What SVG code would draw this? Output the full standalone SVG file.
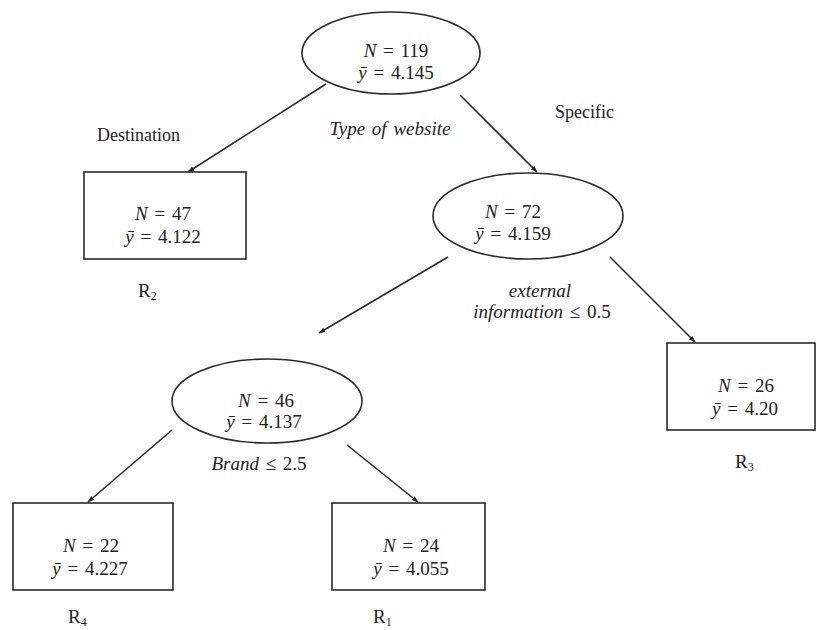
<svg xmlns="http://www.w3.org/2000/svg" width="817" height="630" viewBox="0 0 817 630">
<defs>
<marker id="arr" viewBox="0 0 10 10" refX="9" refY="5" markerWidth="7" markerHeight="7" orient="auto" markerUnits="userSpaceOnUse">
<path d="M0,1.5 L10,5 L0,8.5 z" fill="#222"/>
</marker>
<style>
.shape{fill:#fff;stroke:#2a2a2a;stroke-width:1.6}
.edge{stroke:#2a2a2a;stroke-width:1.6;fill:none;marker-end:url(#arr)}
text{font-family:"Liberation Serif","DejaVu Serif",serif;font-size:19px;fill:#222}
.m{text-anchor:middle;word-spacing:2px}
.i{font-style:italic}
.u{font-style:normal}
.lab{font-size:18px}
.sub{font-size:12px}
</style>
</defs>
<rect width="817" height="630" fill="#fff"/>
<g id="connectors">
<line class="edge" x1="326" y1="84" x2="188" y2="172"/>
<line class="edge" x1="460" y1="95" x2="537" y2="172"/>
<line class="edge" x1="448" y1="257" x2="319" y2="333"/>
<line class="edge" x1="610" y1="257" x2="695" y2="342"/>
<line class="edge" x1="172" y1="430" x2="88" y2="502"/>
<line class="edge" x1="347" y1="445" x2="418" y2="502"/>
</g>
<g id="root">
<ellipse class="shape" cx="391" cy="53" rx="89" ry="41"/>
<text class="m" x="396" y="57"><tspan class="i">N</tspan> = 119</text>
<text class="m" x="396" y="79"><tspan class="i">ȳ</tspan> = 4.145</text>
</g>
<g id="R2">
<rect class="shape" x="84" y="172" width="162" height="87"/>
<text class="m" x="163" y="220"><tspan class="i">N</tspan> = 47</text>
<text class="m" x="163" y="243"><tspan class="i">ȳ</tspan> = 4.122</text>
<text x="138" y="297">R<tspan class="sub" dy="3">2</tspan></text>
</g>
<g id="n72">
<ellipse class="shape" cx="528" cy="216" rx="95" ry="43"/>
<text class="m" x="513" y="218"><tspan class="i">N</tspan> = 72</text>
<text class="m" x="513" y="240"><tspan class="i">ȳ</tspan> = 4.159</text>
</g>
<g id="R3">
<rect class="shape" x="667" y="343" width="148" height="87"/>
<text class="m" x="746" y="392"><tspan class="i">N</tspan> = 26</text>
<text class="m" x="745" y="415"><tspan class="i">ȳ</tspan> = 4.20</text>
<text x="735" y="468">R<tspan class="sub" dy="3">3</tspan></text>
</g>
<g id="n46">
<ellipse class="shape" cx="267" cy="401" rx="95" ry="42"/>
<text class="m" x="266" y="407"><tspan class="i">N</tspan> = 46</text>
<text class="m" x="264" y="428"><tspan class="i">ȳ</tspan> = 4.137</text>
</g>
<g id="R4">
<rect class="shape" x="13" y="503" width="160" height="87"/>
<text class="m" x="91" y="552"><tspan class="i">N</tspan> = 22</text>
<text class="m" x="90" y="575"><tspan class="i">ȳ</tspan> = 4.227</text>
<text x="68" y="623">R<tspan class="sub" dy="3">4</tspan></text>
</g>
<g id="R1">
<rect class="shape" x="332" y="503" width="153" height="87"/>
<text class="m" x="411" y="552"><tspan class="i">N</tspan> = 24</text>
<text class="m" x="411" y="575"><tspan class="i">ȳ</tspan> = 4.055</text>
<text x="373" y="623">R<tspan class="sub" dy="3">1</tspan></text>
</g>
<g id="labels">
<text class="lab" x="97" y="141">Destination</text>
<text class="lab" x="555" y="118">Specific</text>
<text class="i m" x="390" y="135">Type of website</text>
<text class="i m" x="540" y="297">external</text>
<text class="i m" x="542" y="318">information ≤ <tspan class="u">0.5</tspan></text>
<text class="i m" x="259" y="470">Brand ≤ <tspan class="u">2.5</tspan></text>
</g>
</svg>
